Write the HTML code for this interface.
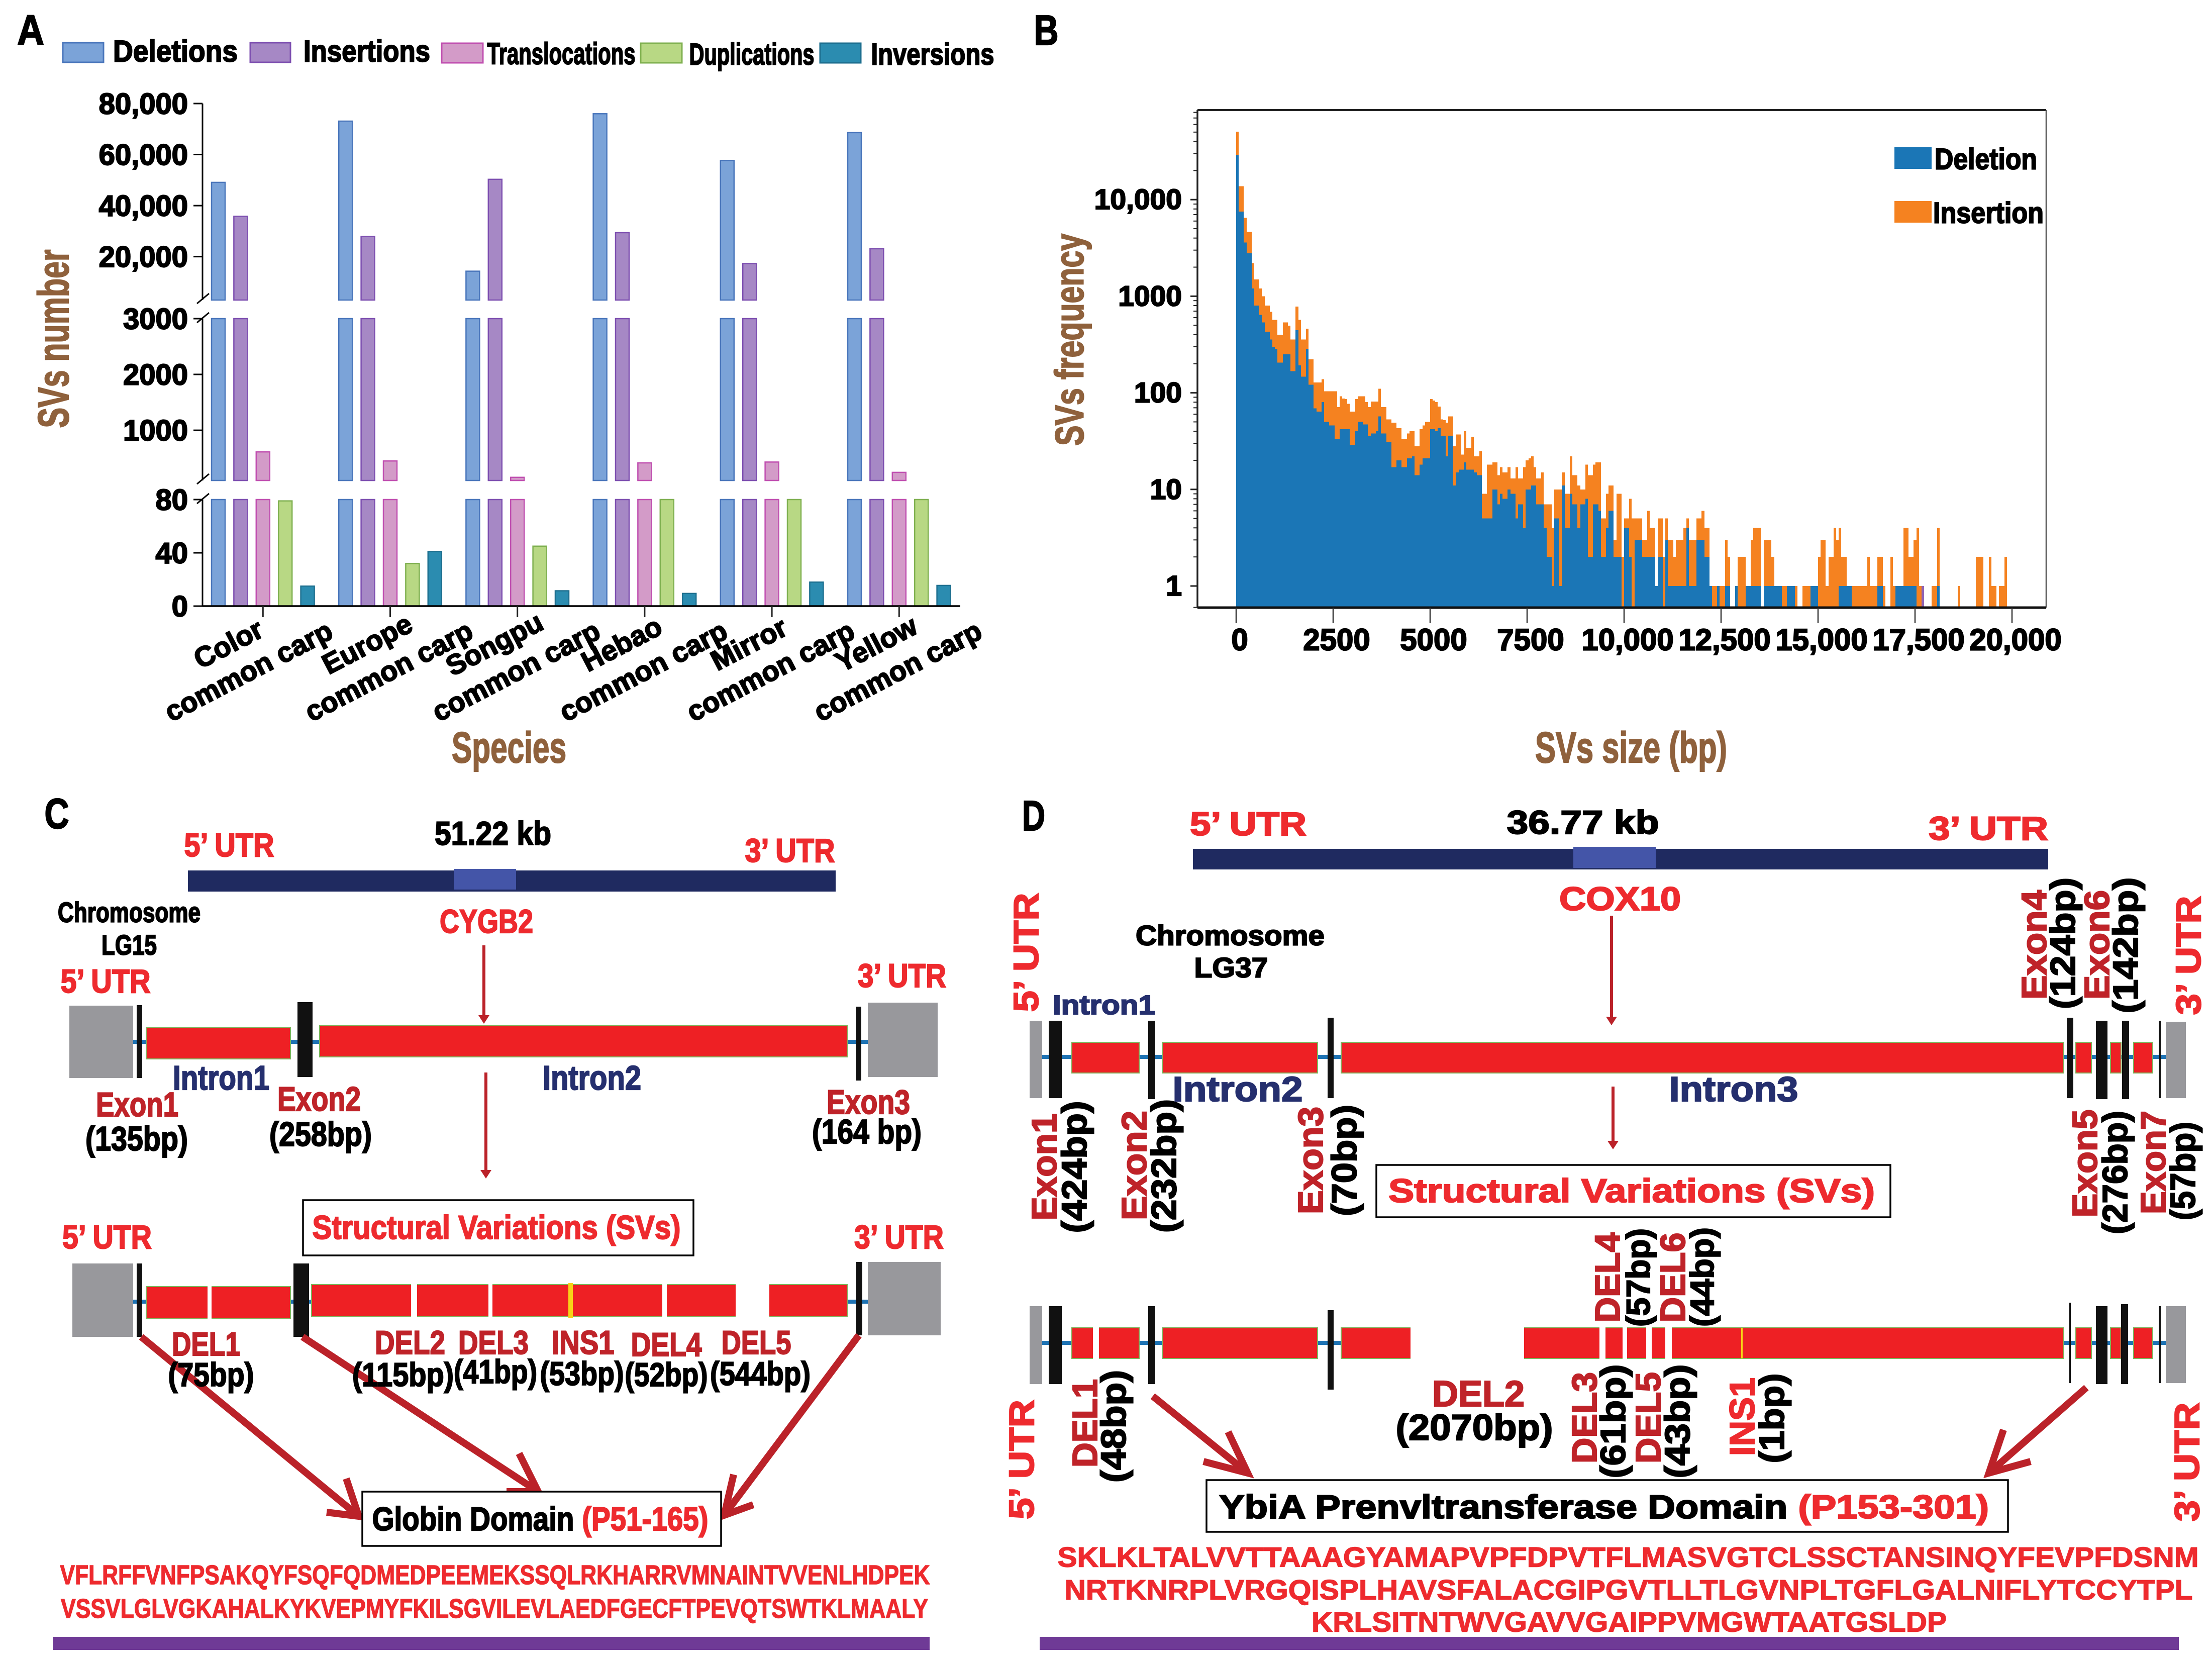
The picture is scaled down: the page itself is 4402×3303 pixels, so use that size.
<!DOCTYPE html>
<html lang="en">
<head>
<meta charset="utf-8">
<title>Structural variations figure</title>
<style>
html,body{margin:0;padding:0;background:#fff;width:4402px;height:3303px;overflow:hidden}
svg{display:block}
text{font-family:"Liberation Sans",Arial,sans-serif;font-weight:700;dominant-baseline:central;stroke-width:2.2px}
.k{fill:#000;stroke:#000}
.r{fill:#ee2a2e;stroke:#ee2a2e}
.d{fill:#bf2329;stroke:#bf2329}
.n{fill:#252f6e;stroke:#252f6e}
.b{fill:#8f613c;stroke:#8f613c}
text.s{stroke-width:1.4px}
.arrow{fill:none;stroke:#bb2229;stroke-width:14}
.thin{stroke:#bb2229;stroke-width:6}
.head{fill:#bb2229}
.red{fill:#ee2024;stroke:#7db45c;stroke-width:2}
.ex{fill:#111}
.gr{fill:#98989c}
.bl{fill:#1e73b4}
</style>
</head>
<body>
<svg id="fig" xmlns="http://www.w3.org/2000/svg" width="4402" height="3303" viewBox="0 0 4402 3303" text-anchor="middle">
<rect width="4402" height="3303" fill="#fff"/>

<!-- PANEL A static -->
<g id="panelA">
<text class="k" x="61" y="60" font-size="84" textLength="54" lengthAdjust="spacingAndGlyphs">A</text>
<rect x="125" y="85" width="81" height="39" fill="#7ba3d8" stroke="#4a76bb" stroke-width="3"/>
<text class="k" x="349" y="102" font-size="60" textLength="248" lengthAdjust="spacingAndGlyphs">Deletions</text>
<rect x="498" y="85" width="80" height="39" fill="#a688c5" stroke="#7d4fb0" stroke-width="3"/>
<text class="k" x="730" y="102" font-size="60" textLength="252" lengthAdjust="spacingAndGlyphs">Insertions</text>
<rect x="879" y="86" width="82" height="39" fill="#d39bc8" stroke="#c04fb0" stroke-width="3"/>
<text class="k" x="1117" y="107" font-size="60" textLength="295" lengthAdjust="spacingAndGlyphs">Translocations</text>
<rect x="1275" y="86" width="82" height="39" fill="#b8d884" stroke="#7fb050" stroke-width="3"/>
<text class="k" x="1496" y="108" font-size="60" textLength="249" lengthAdjust="spacingAndGlyphs">Duplications</text>
<rect x="1632" y="86" width="81" height="39" fill="#2b8cb0" stroke="#1d6f8f" stroke-width="3"/>
<text class="k" x="1856" y="108" font-size="60" textLength="245" lengthAdjust="spacingAndGlyphs">Inversions</text>
<text class="b" transform="translate(107 674) rotate(-90)" font-size="86" textLength="355" lengthAdjust="spacingAndGlyphs">SVs number</text>
<text class="b" x="1013" y="1488" font-size="86" textLength="228" lengthAdjust="spacingAndGlyphs">Species</text>
<line x1="392" y1="604" x2="416" y2="584" stroke="#000" stroke-width="3"/>
<line x1="392" y1="642" x2="416" y2="622" stroke="#000" stroke-width="3"/>
<line x1="392" y1="963" x2="416" y2="943" stroke="#000" stroke-width="3"/>
<line x1="392" y1="1002" x2="416" y2="982" stroke="#000" stroke-width="3"/>
</g>

<!-- PANEL B static -->
<g id="panelB">
<text class="k" x="2082" y="60" font-size="84" textLength="49" lengthAdjust="spacingAndGlyphs">B</text>
<text class="b" transform="translate(2128 676) rotate(-90)" font-size="80" textLength="422" lengthAdjust="spacingAndGlyphs">SVs frequency</text>
<text class="b" x="3246" y="1488" font-size="86" textLength="382" lengthAdjust="spacingAndGlyphs">SVs size (bp)</text>
</g>

<!-- PANEL C -->
<g>
<text class="k" x="113" y="1619" font-size="84" textLength="49" lengthAdjust="spacingAndGlyphs">C</text>
<text class="k" x="981" y="1658" font-size="66" textLength="232" lengthAdjust="spacingAndGlyphs">51.22 kb</text>
<text class="r" x="456" y="1681" font-size="66" textLength="179" lengthAdjust="spacingAndGlyphs">5’ UTR</text>
<text class="r" x="1572" y="1692" font-size="66" textLength="179" lengthAdjust="spacingAndGlyphs">3’ UTR</text>
<rect x="374" y="1732" width="1289" height="42" fill="#1f2a60"/>
<rect x="903" y="1729" width="124" height="41" fill="#4455a8"/>
<text class="k" x="257" y="1815" font-size="56" textLength="284" lengthAdjust="spacingAndGlyphs">Chromosome</text>
<text class="k" x="257" y="1880" font-size="56" textLength="110" lengthAdjust="spacingAndGlyphs">LG15</text>
<text class="r" x="968" y="1833" font-size="66" textLength="186" lengthAdjust="spacingAndGlyphs">CYGB2</text>
<line class="thin" x1="963" y1="1881" x2="963" y2="2024"/>
<polygon class="head" points="952,2020 974,2020 963,2037"/>
<text class="r" x="210" y="1952" font-size="66" textLength="179" lengthAdjust="spacingAndGlyphs">5’ UTR</text>
<text class="r" x="1795" y="1941" font-size="66" textLength="176" lengthAdjust="spacingAndGlyphs">3’ UTR</text>
<rect class="gr" x="138" y="2001" width="127" height="144"/>
<rect class="gr" x="1727" y="1995" width="139" height="148"/>
<rect class="bl" x="265" y="2069" width="1462" height="8"/>
<rect class="ex" x="272" y="2000" width="11" height="145"/>
<rect class="red" x="291" y="2044" width="287" height="63"/>
<rect class="ex" x="592" y="1994" width="30" height="149"/>
<rect class="red" x="636" y="2040" width="1050" height="63"/>
<rect class="ex" x="1703" y="2003" width="11" height="147"/>
<text class="n" x="440" y="2145" font-size="68" textLength="192" lengthAdjust="spacingAndGlyphs">Intron1</text>
<text class="n" x="1178" y="2145" font-size="68" textLength="196" lengthAdjust="spacingAndGlyphs">Intron2</text>
<text class="d" x="273" y="2198" font-size="68" textLength="164" lengthAdjust="spacingAndGlyphs">Exon1</text>
<text class="k" x="272" y="2266" font-size="68" textLength="204" lengthAdjust="spacingAndGlyphs">(135bp)</text>
<text class="d" x="635" y="2187" font-size="68" textLength="166" lengthAdjust="spacingAndGlyphs">Exon2</text>
<text class="k" x="638" y="2257" font-size="68" textLength="204" lengthAdjust="spacingAndGlyphs">(258bp)</text>
<text class="d" x="1728" y="2193" font-size="68" textLength="166" lengthAdjust="spacingAndGlyphs">Exon3</text>
<text class="k" x="1725" y="2252" font-size="68" textLength="218" lengthAdjust="spacingAndGlyphs">(164 bp)</text>
<line class="thin" x1="967" y1="2134" x2="967" y2="2332"/>
<polygon class="head" points="956,2328 978,2328 967,2345"/>
<rect x="603" y="2388" width="777" height="110" fill="#fff" stroke="#000" stroke-width="3.5"/>
<text class="r" x="988" y="2442" font-size="66" textLength="733" lengthAdjust="spacingAndGlyphs">Structural Variations (SVs)</text>
<text class="r" x="213" y="2461" font-size="66" textLength="178" lengthAdjust="spacingAndGlyphs">5’ UTR</text>
<text class="r" x="1789" y="2461" font-size="66" textLength="178" lengthAdjust="spacingAndGlyphs">3’ UTR</text>
<rect class="gr" x="144" y="2514" width="121" height="146"/>
<rect class="gr" x="1727" y="2511" width="145" height="146"/>
<rect class="bl" x="265" y="2586" width="1462" height="8"/>
<rect class="ex" x="272" y="2514" width="11" height="146"/>
<rect class="red" x="291" y="2560" width="287" height="63"/>
<rect x="413" y="2557" width="8" height="69" fill="#fff"/>
<rect class="ex" x="584" y="2514" width="31" height="146"/>
<rect class="red" x="620" y="2556" width="1066" height="64"/>
<rect x="818" y="2553" width="12" height="70" fill="#fff"/>
<rect x="972" y="2553" width="8" height="70" fill="#fff"/>
<rect x="1131" y="2553" width="9" height="70" fill="#f7d117"/>
<rect x="1318" y="2553" width="9" height="70" fill="#fff"/>
<rect x="1464" y="2553" width="67" height="70" fill="#fff"/>
<rect class="ex" x="1703" y="2511" width="13" height="146"/>
<polyline class="arrow" points="281,2660 714,3017"/>
<polyline class="arrow" points="689,2942 714,3017 650,3009"/>
<polyline class="arrow" points="602,2660 1071,2968"/>
<polyline class="arrow" points="1033,2892 1071,2968 1008,2968"/>
<polyline class="arrow" points="1709,2657 1441,3015"/>
<polyline class="arrow" points="1460,2934 1441,3015 1499,2994"/>
<text class="d" x="410" y="2674" font-size="66" textLength="136" lengthAdjust="spacingAndGlyphs">DEL1</text>
<text class="k" x="420" y="2735" font-size="66" textLength="171" lengthAdjust="spacingAndGlyphs">(75bp)</text>
<text class="d" x="816" y="2671" font-size="66" textLength="140" lengthAdjust="spacingAndGlyphs">DEL2</text>
<text class="k" x="802" y="2735" font-size="66" textLength="202" lengthAdjust="spacingAndGlyphs">(115bp)</text>
<text class="d" x="982" y="2671" font-size="66" textLength="140" lengthAdjust="spacingAndGlyphs">DEL3</text>
<text class="k" x="986" y="2729" font-size="66" textLength="166" lengthAdjust="spacingAndGlyphs">(41bp)</text>
<text class="d" x="1160" y="2671" font-size="66" textLength="125" lengthAdjust="spacingAndGlyphs">INS1</text>
<text class="k" x="1158" y="2733" font-size="66" textLength="167" lengthAdjust="spacingAndGlyphs">(53bp)</text>
<text class="d" x="1326" y="2675" font-size="66" textLength="141" lengthAdjust="spacingAndGlyphs">DEL4</text>
<text class="k" x="1326" y="2735" font-size="66" textLength="165" lengthAdjust="spacingAndGlyphs">(52bp)</text>
<text class="d" x="1505" y="2671" font-size="66" textLength="139" lengthAdjust="spacingAndGlyphs">DEL5</text>
<text class="k" x="1513" y="2733" font-size="66" textLength="200" lengthAdjust="spacingAndGlyphs">(544bp)</text>
<rect x="721" y="2968" width="714" height="108" fill="#fff" stroke="#000" stroke-width="3.5"/>
<text class="k" x="1075" y="3022" font-size="66" textLength="669" lengthAdjust="spacingAndGlyphs">Globin Domain <tspan class="r">(P51-165)</tspan></text>
<text class="r s" x="985" y="3134" font-size="54" textLength="1731" lengthAdjust="spacingAndGlyphs">VFLRFFVNFPSAKQYFSQFQDMEDPEEMEKSSQLRKHARRVMNAINTVVENLHDPEK</text>
<text class="r s" x="984" y="3201" font-size="54" textLength="1726" lengthAdjust="spacingAndGlyphs">VSSVLGLVGKAHALKYKVEPMYFKILSGVILEVLAEDFGECFTPEVQTSWTKLMAALY</text>
<rect x="105" y="3257" width="1745" height="26" fill="#6f3a96"/>
</g>

<!-- PANEL D -->
<g>
<text class="k" x="2057" y="1623" font-size="84" textLength="46" lengthAdjust="spacingAndGlyphs">D</text>
<text class="k" x="3150" y="1636" font-size="66" textLength="303" lengthAdjust="spacingAndGlyphs">36.77 kb</text>
<text class="r" x="2484" y="1639" font-size="66" textLength="232" lengthAdjust="spacingAndGlyphs">5’ UTR</text>
<text class="r" x="3957" y="1648" font-size="66" textLength="238" lengthAdjust="spacingAndGlyphs">3’ UTR</text>
<rect x="2374" y="1689" width="1702" height="41" fill="#1f2a60"/>
<rect x="3131" y="1685" width="164" height="42" fill="#4455a8"/>
<text class="r" x="3224" y="1788" font-size="66" textLength="242" lengthAdjust="spacingAndGlyphs">COX10</text>
<text class="k" x="2448" y="1861" font-size="56" textLength="376" lengthAdjust="spacingAndGlyphs">Chromosome</text>
<text class="k" x="2450" y="1925" font-size="56" textLength="147" lengthAdjust="spacingAndGlyphs">LG37</text>
<line class="thin" x1="3207" y1="1822" x2="3207" y2="2027"/>
<polygon class="head" points="3196,2023 3218,2023 3207,2040"/>
<text class="r" transform="translate(2042 1895) rotate(-90)" font-size="70" textLength="237" lengthAdjust="spacingAndGlyphs">5’ UTR</text>
<text class="n" x="2197" y="2000" font-size="54" textLength="204" lengthAdjust="spacingAndGlyphs">Intron1</text>
<text class="d" transform="translate(4048 1880) rotate(-90)" font-size="70" textLength="218" lengthAdjust="spacingAndGlyphs">Exon4</text>
<text class="k" transform="translate(4105 1877) rotate(-90)" font-size="70" textLength="262" lengthAdjust="spacingAndGlyphs">(124bp)</text>
<text class="d" transform="translate(4173 1880) rotate(-90)" font-size="70" textLength="218" lengthAdjust="spacingAndGlyphs">Exon6</text>
<text class="k" transform="translate(4230 1881) rotate(-90)" font-size="70" textLength="271" lengthAdjust="spacingAndGlyphs">(142bp)</text>
<text class="r" transform="translate(4355 1901) rotate(-90)" font-size="70" textLength="237" lengthAdjust="spacingAndGlyphs">3’ UTR</text>

<rect class="gr" x="2049" y="2031" width="25" height="154"/>
<rect class="gr" x="4310" y="2033" width="40" height="152"/>
<rect class="bl" x="2074" y="2099" width="2236" height="8"/>
<rect class="ex" x="2087" y="2031" width="26" height="154"/>
<rect class="red" x="2133" y="2074" width="134" height="61"/>
<rect class="ex" x="2285" y="2031" width="14" height="156"/>
<rect class="red" x="2313" y="2074" width="309" height="61"/>
<rect class="ex" x="2642" y="2025" width="12" height="160"/>
<rect class="red" x="2669" y="2074" width="1438" height="61"/>
<rect class="ex" x="4113" y="2025" width="13" height="160"/>
<rect class="red" x="4131" y="2074" width="31" height="61"/>
<rect class="ex" x="4171" y="2031" width="23" height="156"/>
<rect class="red" x="4200" y="2074" width="21" height="61"/>
<rect class="ex" x="4223" y="2031" width="14" height="156"/>
<rect class="red" x="4246" y="2074" width="38" height="61"/>
<rect class="ex" x="4296" y="2031" width="4" height="154"/>

<text class="n" x="2463" y="2167" font-size="70" textLength="259" lengthAdjust="spacingAndGlyphs">Intron2</text>
<text class="n" x="3450" y="2167" font-size="70" textLength="257" lengthAdjust="spacingAndGlyphs">Intron3</text>
<line class="thin" x1="3210" y1="2162" x2="3210" y2="2274"/>
<polygon class="head" points="3199,2270 3221,2270 3210,2287"/>

<text class="d" transform="translate(2078 2322) rotate(-90)" font-size="70" textLength="213" lengthAdjust="spacingAndGlyphs">Exon1</text>
<text class="k" transform="translate(2138 2322) rotate(-90)" font-size="70" textLength="263" lengthAdjust="spacingAndGlyphs">(424bp)</text>
<text class="d" transform="translate(2257 2319) rotate(-90)" font-size="70" textLength="218" lengthAdjust="spacingAndGlyphs">Exon2</text>
<text class="k" transform="translate(2316 2320) rotate(-90)" font-size="70" textLength="266" lengthAdjust="spacingAndGlyphs">(232bp)</text>
<text class="d" transform="translate(2608 2309) rotate(-90)" font-size="70" textLength="214" lengthAdjust="spacingAndGlyphs">Exon3</text>
<text class="k" transform="translate(2675 2309) rotate(-90)" font-size="70" textLength="222" lengthAdjust="spacingAndGlyphs">(70bp)</text>
<text class="d" transform="translate(4149 2315) rotate(-90)" font-size="70" textLength="215" lengthAdjust="spacingAndGlyphs">Exon5</text>
<text class="k" transform="translate(4209 2333) rotate(-90)" font-size="70" textLength="246" lengthAdjust="spacingAndGlyphs">(276bp)</text>
<text class="d" transform="translate(4285 2313) rotate(-90)" font-size="70" textLength="206" lengthAdjust="spacingAndGlyphs">Exon7</text>
<text class="k" transform="translate(4344 2330) rotate(-90)" font-size="70" textLength="196" lengthAdjust="spacingAndGlyphs">(57bp)</text>

<rect x="2739" y="2318" width="1023" height="104" fill="#fff" stroke="#000" stroke-width="3.5"/>
<text class="r" x="3247" y="2369" font-size="66" textLength="968" lengthAdjust="spacingAndGlyphs">Structural Variations (SVs)</text>

<text class="d" transform="translate(3199 2542) rotate(-90)" font-size="70" textLength="179" lengthAdjust="spacingAndGlyphs">DEL4</text>
<text class="k" transform="translate(3260 2542) rotate(-90)" font-size="66" textLength="196" lengthAdjust="spacingAndGlyphs">(57bp)</text>
<text class="d" transform="translate(3329 2542) rotate(-90)" font-size="70" textLength="179" lengthAdjust="spacingAndGlyphs">DEL6</text>
<text class="k" transform="translate(3387 2541) rotate(-90)" font-size="66" textLength="198" lengthAdjust="spacingAndGlyphs">(44bp)</text>

<rect class="gr" x="2049" y="2599" width="25" height="155"/>
<rect class="gr" x="4310" y="2599" width="40" height="153"/>
<rect class="bl" x="2074" y="2668" width="2236" height="8"/>
<rect class="ex" x="2087" y="2599" width="26" height="155"/>
<rect class="red" x="2133" y="2642" width="134" height="61"/>
<rect x="2175" y="2639" width="12" height="67" fill="#fff"/>
<rect class="ex" x="2285" y="2599" width="14" height="155"/>
<rect class="red" x="2313" y="2642" width="309" height="61"/>
<rect class="ex" x="2642" y="2607" width="12" height="158"/>
<rect class="red" x="2669" y="2642" width="1438" height="61"/>
<rect x="2807" y="2639" width="226" height="67" fill="#fff"/>
<rect x="3183" y="2639" width="12" height="67" fill="#fff"/>
<rect x="3229" y="2639" width="9" height="67" fill="#fff"/>
<rect x="3276" y="2639" width="11" height="67" fill="#fff"/>
<rect x="3314" y="2639" width="13" height="67" fill="#fff"/>
<rect x="3465" y="2642" width="3" height="61" fill="#f7d117"/>
<rect class="ex" x="4118" y="2592" width="3" height="160"/>
<rect class="red" x="4131" y="2642" width="31" height="61"/>
<rect class="ex" x="4171" y="2599" width="23" height="155"/>
<rect class="red" x="4200" y="2642" width="21" height="61"/>
<rect class="ex" x="4221" y="2595" width="14" height="159"/>
<rect class="red" x="4246" y="2642" width="38" height="61"/>
<rect class="ex" x="4296" y="2599" width="4" height="153"/>

<text class="d" x="2942" y="2774" font-size="72" textLength="184" lengthAdjust="spacingAndGlyphs">DEL2</text>
<text class="k" x="2934" y="2841" font-size="72" textLength="313" lengthAdjust="spacingAndGlyphs">(2070bp)</text>
<text class="d" transform="translate(2159 2832) rotate(-90)" font-size="70" textLength="176" lengthAdjust="spacingAndGlyphs">DEL1</text>
<text class="k" transform="translate(2216 2838) rotate(-90)" font-size="70" textLength="224" lengthAdjust="spacingAndGlyphs">(48bp)</text>
<text class="d" transform="translate(3153 2821) rotate(-90)" font-size="70" textLength="182" lengthAdjust="spacingAndGlyphs">DEL3</text>
<text class="k" transform="translate(3210 2828) rotate(-90)" font-size="70" textLength="227" lengthAdjust="spacingAndGlyphs">(61bp)</text>
<text class="d" transform="translate(3280 2821) rotate(-90)" font-size="70" textLength="182" lengthAdjust="spacingAndGlyphs">DEL5</text>
<text class="k" transform="translate(3338 2828) rotate(-90)" font-size="70" textLength="227" lengthAdjust="spacingAndGlyphs">(43bp)</text>
<text class="r" transform="translate(3467 2819) rotate(-90)" font-size="70" textLength="156" lengthAdjust="spacingAndGlyphs">INS1</text>
<text class="k" transform="translate(3526 2822) rotate(-90)" font-size="70" textLength="179" lengthAdjust="spacingAndGlyphs">(1bp)</text>
<text class="r" transform="translate(2033 2904) rotate(-90)" font-size="70" textLength="238" lengthAdjust="spacingAndGlyphs">5’ UTR</text>
<text class="r" transform="translate(4352 2909) rotate(-90)" font-size="70" textLength="237" lengthAdjust="spacingAndGlyphs">3’ UTR</text>

<polyline class="arrow" points="2294,2778 2483,2931"/>
<polyline class="arrow" points="2444,2849 2483,2931 2395,2908"/>
<polyline class="arrow" points="4152,2761 3958,2931"/>
<polyline class="arrow" points="3987,2845 3958,2931 4041,2908"/>
<rect x="2401" y="2945" width="1595" height="103" fill="#fff" stroke="#000" stroke-width="3.5"/>
<text class="k" x="3192" y="2998" font-size="66" textLength="1532" lengthAdjust="spacingAndGlyphs">YbiA Prenvltransferase Domain <tspan class="r">(P153-301)</tspan></text>
<text class="r s" x="3240" y="3098" font-size="56" textLength="2271" lengthAdjust="spacingAndGlyphs">SKLKLTALVVTTAAAGYAMAPVPFDPVTFLMASVGTCLSSCTANSINQYFEVPFDSNM</text>
<text class="r s" x="3241" y="3163" font-size="56" textLength="2245" lengthAdjust="spacingAndGlyphs">NRTKNRPLVRGQISPLHAVSFALACGIPGVTLLTLGVNPLTGFLGALNIFLYTCCYTPL</text>
<text class="r s" x="3242" y="3227" font-size="56" textLength="1264" lengthAdjust="spacingAndGlyphs">KRLSITNTWVGAVVGAIPPVMGWTAATGSLDP</text>
<rect x="2069" y="3257" width="2267" height="26" fill="#6f3a96"/>
</g>
</svg>

<script>
// ---- Panel A data ----
const categories = ['Color','Europe','Songpu','Hebao','Mirror','Yellow'];
const deletions = [49100,73100,14300,76000,57700,68600];
const insertions = [35800,27900,50300,29400,17300,23100];
const translocations = [612,449,156,415,430,245];
const duplications = [79,32,45,90,90,90];
const inversions = [15,41,11.5,9.5,18,15.5];
const topTicks = [20000,40000,60000,80000];
const topTickLabels = ['20,000','40,000','60,000','80,000'];
const midTicks = [1000,2000,3000];
const midTickLabels = ['1000','2000','3000'];
const lowTicks = [0,40,80];
const lowTickLabels = ['0','40','80'];

// ---- Panel B data ----
const sizeTicks = [0,2500,5000,7500,10000,12500,15000,17500,20000];
const sizeTickLabels = ['0','2500','5000','7500','10,000','12,500','15,000','17,500','20,000'];
const freqTicks = [1,10,100,1000,10000];
const freqTickLabels = ['1','10','100','1000','10,000'];
const legendNames = ['Deletion','Insertion'];
const binTotals = [
50400,13800,13800,6460,4640,4640,2200,1490,1490,1200,
1000,800,800,690,570,570,400,400,535,535,
497,357,357,780,570,357,357,462,222,222,
128,128,128,138,104,104,104,104,104,71,
92,87,86,77,64,64,86,92,92,92,
80,71,81,81,81,110,71,71,53,53,
49,49,43,43,33,33,38,40,40,28,
28,42,46,50,50,86,83,80,72,53,
52,49,57,57,28,37,37,23,40,27,
27,35,22,22,25,9,9,18,18,19,
19,14,17,15,15,17,13,13,17,13,
13,17,20,21,22,17,13,13,15,7,
7,7,4,10,10,10,15,9,9,22,
14,14,11,10,10,18,14,14,18,19,
19,5,5,9,11,11,3,9,9,2,
5,5,8,5,5,5,5,3,3,6,
4,4,1,5,5,2,5,3,3,2,
3,3,3,4,5,3,3,3,5,5,
6,4,4,1,1,1,1,1,1,3,
2,0,0,1,2,2,2,1,1,3,
4,4,4,0,3,3,3,2,1,1,
1,1,1,1,1,1,1,0,0,1,
1,1,1,1,1,2,3,3,1,2,
2,4,3,4,2,2,1,1,1,1,
1,1,1,1,2,1,1,1,2,2,
1,0,0,2,1,1,1,1,4,4,
2,2,3,4,1,1,0,0,0,1,
1,4,0,0,0,0,0,0,0,1,
0,0,0,0,0,0,2,2,2,0,
0,2,1,1,0,1,1,2,0,0];
const binDeletions = [
29000,7500,7500,3600,2790,2790,1200,800,800,640,
535,430,430,357,297,286,206,206,250,250,
250,168,168,445,192,147,147,286,121,121,
69,64,64,80,50,50,46,46,33,33,
42,42,42,42,29,29,40,50,50,47,
47,36,38,38,40,57,38,38,31,31,
17,17,20,20,17,17,21,21,22,14,
14,18,21,21,21,42,42,40,43,36,
36,22,36,36,11,15,16,16,19,16,
16,16,15,14,14,5,5,5,5,10,
10,7,9,8,8,10,9,9,5,7,
7,4,10,10,11,11,7,7,7,4,
2,2,1,5,5,1,11,4,4,9,
7,7,4,7,7,8,2,2,7,7,
6,2,2,4,6,6,2,2,2,0,
4,4,2,0,3,3,3,2,2,2,
2,2,1,2,2,0,3,1,1,1,
1,1,1,1,4,1,1,1,3,3,
3,2,2,1,0,0,1,0,0,1,
1,0,0,1,0,0,0,1,1,1,
1,1,1,0,1,1,1,1,1,1,
1,0,0,1,1,1,0,0,0,0,
0,0,1,1,1,0,0,0,0,0,
0,0,0,1,1,1,1,1,0,0,
0,0,0,0,0,0,0,0,1,1,
0,0,0,0,0,1,1,1,1,1,
1,1,1,0,0,1,0,0,0,0,
0,1,0,0,0,0,0,0,0,0,
0,0,0,0,0,0,0,0,0,0,
0,0,0,0,0,0,0,0,0,0];
const overlapBins = [265];

const svg = document.getElementById('fig');
const NS = 'http://www.w3.org/2000/svg';
const panelA = document.getElementById('panelA');
const panelB = document.getElementById('panelB');

function shape(parent, tag, props){
  const el = document.createElementNS(NS, tag);
  for (const k in props) el.setAttribute(k, props[k]);
  parent.appendChild(el);
  return el;
}

// ---- Panel A scales ----
const segTop = {min:3000,max:80000,bottom:597,top:206};
const segMid = {min:100,max:3000,bottom:956,top:634};
const segLow = {min:0,max:80,bottom:1206,top:994};
function segY(seg,v){ return seg.bottom-(v-seg.min)/(seg.max-seg.min)*(seg.bottom-seg.top); }
function groupX(i){ return 421+i*253.2; }
const barW = 27;
const barStep = 44.4;

const seriesA = [
 {key:'deletions',values:deletions,fill:'#7ba3d8',line:'#4a76bb'},
 {key:'insertions',values:insertions,fill:'#a688c5',line:'#7d4fb0'},
 {key:'translocations',values:translocations,fill:'#d39bc8',line:'#c04fb0'},
 {key:'duplications',values:duplications,fill:'#b8d884',line:'#7fb050'},
 {key:'inversions',values:inversions,fill:'#2b8cb0',line:'#1d6f8f'}
];

seriesA.forEach(function(s,si){
  s.values.forEach(function(v,gi){
    [segTop,segMid,segLow].forEach(function(seg){
      if (v <= seg.min) return;
      const vv = Math.min(v,seg.max);
      const y = segY(seg,vv);
      const x = groupX(gi)+si*barStep;
      const el = shape(panelA,'rect',{x:x,y:y,width:barW,height:seg.bottom-y,fill:s.fill,stroke:s.line,'stroke-width':2.5});
      
      
    });
  });
});

function axisALine(x1,y1,x2,y2,w){
  const el = shape(panelA,'line',{x1:x1,y1:y1,x2:x2,y2:y2,stroke:'#000','stroke-width':w});
  
  
  return el;
}
[segTop,segMid,segLow].forEach(function(seg){ axisALine(403,seg.top,403,seg.bottom,3); });
axisALine(403,1206,1911,1206,3.5);

function yTicksA(seg,ticks,labels){
  ticks.forEach(function(t,i){
    const y = segY(seg,t);
    const tk = shape(panelA,'line',{x1:385,y1:y,x2:403,y2:y,stroke:'#000','stroke-width':3});
    
    
    const lb = shape(panelA,'text',{x:374,y:y+1,'text-anchor':'end','font-size':58,'class':'k'});
    
    
    lb.textContent = labels[i];
  });
}
yTicksA(segTop,topTicks,topTickLabels);
yTicksA(segMid,midTicks,midTickLabels);
yTicksA(segLow,lowTicks,lowTickLabels);

categories.forEach(function(name,i){
  const cx = groupX(i)+2*barStep+barW/2;
  const tk = shape(panelA,'line',{x1:cx,y1:1206,x2:cx,y2:1228,stroke:'#222','stroke-width':3});
  
  
  const first = i===0;
  const lx1 = cx + (first ? -69 : -46);
  const lx2 = cx + (first ? -29 : -3);
  const a = shape(panelA,'text',{transform:'translate('+lx1+' 1281) rotate(-27.5)','font-size':56,'class':'k'});
  
  
  a.textContent = name;
  const b = shape(panelA,'text',{transform:'translate('+lx2+' 1335) rotate(-27.5)','font-size':56,'class':'k'});
  
  
  b.textContent = 'common carp';
});

// ---- Panel B scales ----
const boxL = 2383, boxR = 4072, boxT = 219, boxB = 1209;
function xB(v){ return 2460+v*0.0772; }
function yB(v){ return 1166-192.2*Math.log10(v); }
const binBp = 20000/300;

binTotals.forEach(function(v,i){
  if (v <= 0) return;
  const x0 = Math.round(xB(i*binBp));
  const x1 = Math.round(xB((i+1)*binBp));
  const y = yB(v);
  const el = shape(panelB,'rect',{x:x0,y:y,width:x1-x0,height:boxB-y,fill:'#f58220','shape-rendering':'crispEdges'});
  
  
});
binDeletions.forEach(function(v,i){
  if (v <= 0) return;
  const x0 = Math.round(xB(i*binBp));
  const x1 = Math.round(xB((i+1)*binBp));
  const y = yB(v);
  const col = overlapBins.indexOf(i)>=0 ? '#8f63b5' : '#1b76b6';
  const el = shape(panelB,'rect',{x:x0,y:y,width:x1-x0,height:boxB-y,fill:col,'shape-rendering':'crispEdges'});
  
  
});

function frameLine(x1,y1,x2,y2,w,col){
  const el = shape(panelB,'line',{x1:x1,y1:y1,x2:x2,y2:y2,stroke:col,'stroke-width':w});
  
  
}
frameLine(boxL,boxT,boxR,boxT,4,'#222');
frameLine(boxL,boxT,boxL,boxB,3.5,'#222');
frameLine(boxR,boxT,boxR,boxB,2.5,'#555');
frameLine(boxL,boxB,boxR,boxB,5,'#111');

sizeTicks.forEach(function(t,i){
  const x = xB(t);
  const tk = shape(panelB,'line',{x1:x,y1:boxB,x2:x,y2:1240,stroke:'#333','stroke-width':2.5});
  
  
  const lb = shape(panelB,'text',{x:x+7,y:1273,'font-size':60,'class':'k'});
  
  
  lb.textContent = sizeTickLabels[i];
});
freqTicks.forEach(function(t,i){
  const y = yB(t);
  const tk = shape(panelB,'line',{x1:boxL-14,y1:y,x2:boxL,y2:y,stroke:'#222','stroke-width':3});
  
  
  const lb = shape(panelB,'text',{x:2352,y:y,'text-anchor':'end','font-size':57,'class':'k'});
  
  
  lb.textContent = freqTickLabels[i];
  for (let m=2;m<=9;m++){
    const v = t*m;
    const ym = yB(v);
    if (ym < boxT) continue;
    const mk = shape(panelB,'line',{x1:boxL-8,y1:ym,x2:boxL,y2:ym,stroke:'#222','stroke-width':2});
    
    
  }
  const yl = yB(t*0.6);
  if (i===0){
    const mk = shape(panelB,'line',{x1:boxL-8,y1:yl,x2:boxL,y2:yl,stroke:'#222','stroke-width':2});
    
    
  }
});

const legendSwatchY = [293,400];
const legendCols = ['#1b76b6','#f58220'];
legendNames.forEach(function(n,i){
  const sw = shape(panelB,'rect',{x:3770,y:legendSwatchY[i],width:74,height:43,fill:legendCols[i]});
  
  
  const lb = shape(panelB,'text',{x:i===0?3952:3957,y:legendSwatchY[i]+24,'font-size':58,'class':'k',textLength:i===0?204:220,lengthAdjust:'spacingAndGlyphs'});
  
  
  lb.textContent = n;
});
</script>
</body>
</html>
